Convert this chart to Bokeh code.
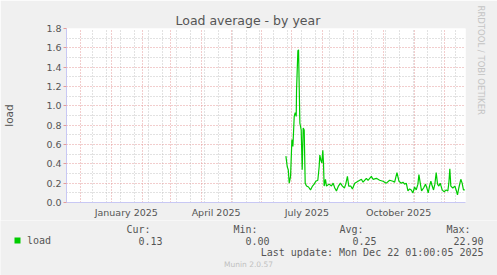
from datetime import datetime, timedelta
from bokeh.plotting import figure
from bokeh.layouts import column
from bokeh.models import (Range1d, FixedTicker, Grid, NumeralTickFormatter,
                          DatetimeTickFormatter, Label, Title,
                          ColumnDataSource, BoxAnnotation)
from bokeh.embed import file_html
from bokeh.resources import INLINE

# ---------------- data ----------------
dates = [
    "2025-06-25 00:00", "2025-06-26 08:00", "2025-06-27 08:00", "2025-06-28 08:00",
    "2025-06-29 16:00", "2025-07-01 00:00", "2025-07-02 00:00", "2025-07-03 08:00",
    "2025-07-04 08:00", "2025-07-05 08:00", "2025-07-05 16:00", "2025-07-07 00:00",
    "2025-07-07 16:00", "2025-07-09 00:00", "2025-07-10 08:00", "2025-07-11 08:00",
    "2025-07-12 08:00", "2025-07-13 08:00", "2025-07-14 08:00", "2025-07-15 16:00",
    "2025-07-17 16:00", "2025-07-19 16:00", "2025-07-21 16:00", "2025-07-23 08:00",
    "2025-07-25 00:00", "2025-07-27 00:00", "2025-07-28 08:00", "2025-07-29 00:00",
    "2025-07-30 00:00", "2025-07-31 00:00", "2025-08-01 00:00", "2025-08-01 16:00",
    "2025-08-02 08:00", "2025-08-03 16:00", "2025-08-04 16:00", "2025-08-07 08:00",
    "2025-08-09 16:00", "2025-08-11 08:00", "2025-08-13 00:00", "2025-08-14 16:00",
    "2025-08-16 16:00", "2025-08-18 16:00", "2025-08-20 16:00", "2025-08-22 16:00",
    "2025-08-24 00:00", "2025-08-25 16:00", "2025-08-27 00:00", "2025-08-29 00:00",
    "2025-08-30 16:00", "2025-09-02 00:00", "2025-09-05 08:00", "2025-09-08 16:00",
    "2025-09-10 08:00", "2025-09-13 16:00", "2025-09-15 08:00", "2025-09-18 16:00",
    "2025-09-20 08:00", "2025-09-23 16:00", "2025-09-27 00:00", "2025-09-30 08:00",
    "2025-10-03 16:00", "2025-10-07 00:00", "2025-10-10 08:00", "2025-10-12 00:00",
    "2025-10-14 08:00", "2025-10-16 08:00", "2025-10-18 16:00", "2025-10-20 08:00",
    "2025-10-22 00:00", "2025-10-23 16:00", "2025-10-25 08:00", "2025-10-27 00:00",
    "2025-10-28 16:00", "2025-10-30 08:00", "2025-11-01 00:00", "2025-11-02 16:00",
    "2025-11-04 08:00", "2025-11-05 08:00", "2025-11-06 16:00", "2025-11-08 00:00",
    "2025-11-10 00:00", "2025-11-12 00:00", "2025-11-13 08:00", "2025-11-14 16:00",
    "2025-11-16 00:00", "2025-11-17 08:00", "2025-11-18 16:00", "2025-11-20 00:00",
    "2025-11-21 08:00", "2025-11-22 16:00", "2025-11-24 00:00", "2025-11-25 08:00",
    "2025-11-26 16:00", "2025-11-28 16:00", "2025-11-30 16:00", "2025-12-02 16:00",
    "2025-12-04 08:00", "2025-12-05 08:00", "2025-12-06 08:00", "2025-12-07 08:00",
    "2025-12-09 08:00", "2025-12-11 08:00", "2025-12-12 16:00", "2025-12-14 00:00",
    "2025-12-15 08:00", "2025-12-17 08:00", "2025-12-18 16:00", "2025-12-20 00:00",
    "2025-12-21 08:00",
]
load = [
    0.48, 0.37, 0.34, 0.20,
    0.27, 0.65, 0.58, 0.89,
    0.93, 0.89, 1.16, 1.57,
    1.58, 0.82, 0.75, 0.34,
    0.77, 0.75, 0.20, 0.17,
    0.16, 0.13, 0.17, 0.19,
    0.22, 0.23, 0.37, 0.49,
    0.44, 0.41, 0.54, 0.41,
    0.17, 0.24, 0.17, 0.19,
    0.17, 0.20, 0.15, 0.12,
    0.17, 0.20, 0.17, 0.15,
    0.19, 0.27, 0.17, 0.17,
    0.14, 0.20, 0.22, 0.24,
    0.21, 0.25, 0.23, 0.27,
    0.24, 0.25, 0.23, 0.22,
    0.20, 0.23, 0.22, 0.21,
    0.31, 0.22, 0.20, 0.21,
    0.19, 0.20, 0.12, 0.14,
    0.13, 0.10, 0.16, 0.13,
    0.19, 0.29, 0.20, 0.12,
    0.15, 0.19, 0.15, 0.10,
    0.17, 0.22, 0.17, 0.13,
    0.19, 0.31, 0.19, 0.17,
    0.20, 0.13, 0.11, 0.13,
    0.12, 0.20, 0.35, 0.17,
    0.15, 0.17, 0.13, 0.08,
    0.15, 0.24, 0.20, 0.13,
    0.13,
]
y_ticks = [0.0, 0.2, 0.4, 0.6, 0.8, 1.0, 1.2, 1.4, 1.6, 1.8]
x_label_months = ["2025-01", "2025-04", "2025-07", "2025-10"]
legend_name = "load"
stats_heads = ["Cur:", "Min:", "Avg:", "Max:"]
stats_values = ["0.13", "0.00", "0.25", "22.90"]
last_update = "Last update: Mon Dec 22 01:00:05 2025"

EPOCH = datetime(1970, 1, 1)
def ms(dt):
    return (dt - EPOCH).total_seconds() * 1000.0

start = datetime(2024, 11, 17, 1, 0, 5)
end = datetime(2025, 12, 22, 1, 0, 5)

xs = [ms(datetime.strptime(d, "%Y-%m-%d %H:%M")) for d in dates]
src = ColumnDataSource(dict(x=xs, y=load))

# ---------------- styling ----------------
FONT = "DejaVu Sans"
MONO = "DejaVu Sans Mono"
TXT = "#555555"
BG = "#f0f0f0"
AXC = "#c8c8f4"
RED = "#e49a9a"
GRAY = "#c4c4c4"
GREEN = "#00cc00"

# ---------------- chart ----------------
p = figure(width=497, height=220, output_backend="svg", toolbar_location=None,
           x_axis_type="datetime",
           x_range=Range1d(ms(start), ms(end)), y_range=Range1d(0, 1.8),
           min_border_left=66, min_border_right=31, min_border_top=28,
           min_border_bottom=17)
p.frame_align = False
p.background_fill_color = "white"
p.border_fill_color = BG
p.outline_line_color = None

p.title = Title(text="Load average - by year", align="left", offset=109,
                standoff=2, text_font=FONT, text_font_size="12.5px",
                text_font_style="normal", text_color=TXT)
p.add_layout(Title(text="RRDTOOL / TOBI OETIKER", align="left", offset=-23,
                   standoff=20, text_font=FONT, text_font_size="8.5px",
                   text_font_style="normal", text_color="#c4c4c4"), "right")

month_starts = []
yy, mm = 2024, 12
while (yy, mm) <= (2025, 12):
    month_starts.append(ms(datetime(yy, mm, 1)))
    mm += 1
    if mm == 13:
        yy, mm = yy + 1, 1
minor_x = []
d = datetime(2024, 12, 13)
while d < end:
    minor_x.append(ms(d))
    d += timedelta(days=14)

p.xgrid.visible = False
p.ygrid.visible = False
minor_y = [0.1, 0.3, 0.5, 0.7, 0.9, 1.1, 1.3, 1.5, 1.7]
for dim, ticks, col in [(0, minor_x, GRAY), (1, minor_y, GRAY),
                        (0, month_starts, RED), (1, y_ticks[1:], RED)]:
    g = Grid(dimension=dim, ticker=FixedTicker(ticks=ticks),
             grid_line_color=col, grid_line_dash="1 2", grid_line_width=1)
    p.add_layout(g, "center")

p.line("x", "y", source=src, line_color=GREEN, line_width=1.2)

label_ticks = []
for s in x_label_months:
    y_, m_ = s.split("-")
    label_ticks.append(ms(datetime(int(y_), int(m_), 1) + timedelta(days=15)))
p.xaxis.ticker = FixedTicker(ticks=label_ticks)
fmt = "%B %Y"
p.xaxis.formatter = DatetimeTickFormatter(
    milliseconds=fmt, seconds=fmt, minsec=fmt, minutes=fmt, hourmin=fmt,
    hours=fmt, days=fmt, months=fmt, years=fmt)
p.xaxis.major_tick_line_color = None
p.xaxis.major_tick_out = 0
p.xaxis.major_tick_in = 0
p.xaxis.minor_tick_line_color = None
p.xaxis.major_label_standoff = 4
p.xaxis.axis_line_color = AXC

p.yaxis.ticker = FixedTicker(ticks=y_ticks)
p.yaxis.formatter = NumeralTickFormatter(format="0.0")
p.yaxis.major_tick_line_color = RED
p.yaxis.major_tick_out = 3
p.yaxis.major_tick_in = 0
p.yaxis.minor_tick_line_color = None
p.yaxis.major_label_standoff = 2
p.yaxis.axis_line_color = AXC
p.yaxis.axis_label = "load"
p.yaxis.axis_label_standoff = 28
p.yaxis.axis_label_text_font = FONT
p.yaxis.axis_label_text_font_style = "normal"
p.yaxis.axis_label_text_font_size = "10.5px"
p.yaxis.axis_label_text_color = TXT
for ax in (p.xaxis, p.yaxis):
    ax.major_label_text_font = FONT
    ax.major_label_text_font_size = "9.5px"
    ax.major_label_text_color = TXT

# ---------------- legend strip (pixel-like coordinates of the page) ----------
q = figure(width=497, height=55, output_backend="svg", toolbar_location=None,
           x_range=Range1d(0, 497), y_range=Range1d(275, 220),
           x_axis_location=None, y_axis_location=None, min_border=0)
q.frame_align = False
q.background_fill_color = BG
q.border_fill_color = BG
q.outline_line_color = None
q.xgrid.visible = False
q.ygrid.visible = False

def lab(text, x, y, font=MONO, size="10px", color=TXT, align="left"):
    q.add_layout(Label(x=x, y=y, text=text, text_font=font, text_font_size=size,
                       text_color=color, text_align=align,
                       text_baseline="middle"))

q.add_layout(BoxAnnotation(left=14, right=20, bottom=243, top=237,
                           fill_color=GREEN, fill_alpha=1, line_color=None))
lab(legend_name, 26.5, 240)
head_right = [150, 257, 363, 470]
val_right = [162, 269, 376, 483]
for h, v, hr, vr in zip(stats_heads, stats_values, head_right, val_right):
    lab(h, hr, 228.5, align="right")
    lab(v, vr, 240, align="right")
lab(last_update, 483, 251.5, align="right")
lab("Munin 2.0.57", 248, 264, font=FONT, size="7.5px", color="#c0c0c0",
    align="center")

layout = column(p, q, spacing=0)
open("out.html", "w").write(file_html(layout, INLINE))
